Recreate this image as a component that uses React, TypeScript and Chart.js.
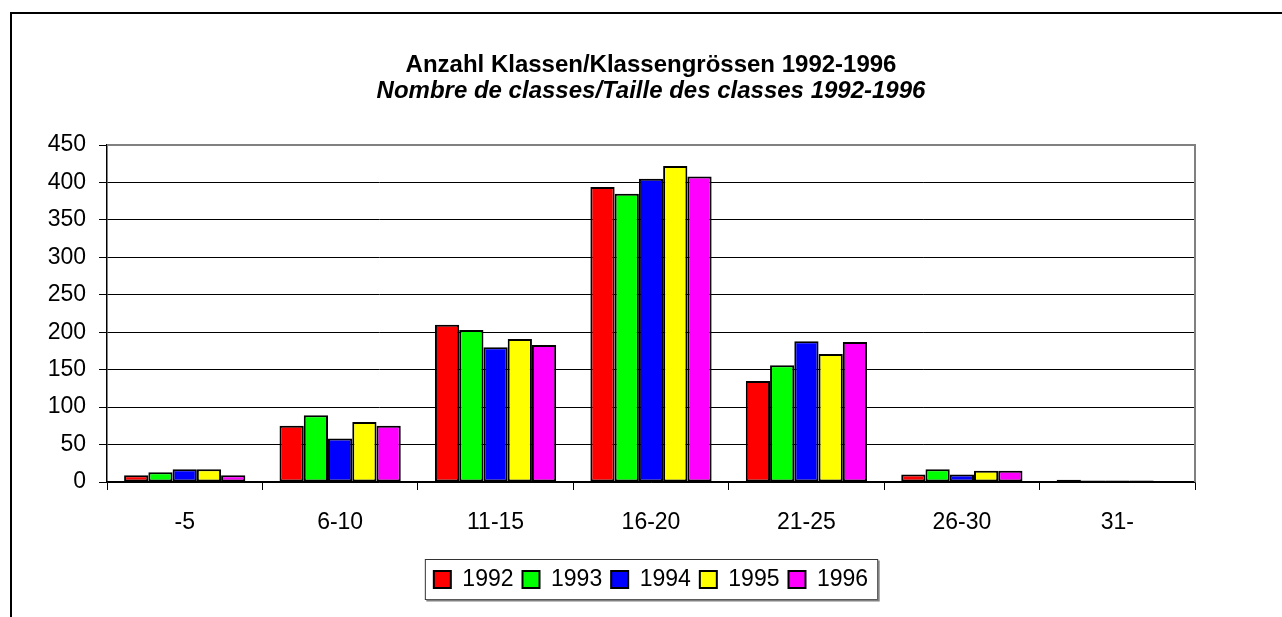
import React, { useEffect, useRef } from "react";
import { Chart, registerables } from "chart.js";

Chart.register(...registerables);

const categories = ["-5", "6-10", "11-15", "16-20", "21-25", "26-30", "31-"];
const seriesNames = ["1992", "1993", "1994", "1995", "1996"];
const seriesColors = ["#FF0000", "#00FF00", "#0000FF", "#FFFF00", "#FF00FF"];
const values1992 = [9, 75, 210, 394, 135, 10, 3];
const values1993 = [13, 89, 203, 385, 156, 17, 2];
const values1994 = [17, 58, 180, 405, 188, 10, 2];
const values1995 = [17, 80, 191, 422, 171, 15, 2];
const values1996 = [9, 75, 183, 408, 187, 15, 1];
const yTickMin = 0;
const yTickMax = 450;
const yTickStep = 50;
const titleText = "Anzahl Klassen/Klassengrössen 1992-1996";
const subtitleText = "Nombre de classes/Taille des classes 1992-1996";

const seriesValues = [values1992, values1993, values1994, values1995, values1996];

const FONT = "'Liberation Sans', Arial, Helvetica, sans-serif";

const framePlugin = {
  id: "framePlugin",
  afterDraw(chart: any) {
    const ctx = chart.ctx;
    const a = chart.chartArea;
    ctx.save();
    ctx.strokeStyle = "#808080";
    ctx.lineWidth = 2;
    ctx.beginPath();
    ctx.moveTo(a.left, a.top);
    ctx.lineTo(a.right, a.top);
    ctx.lineTo(a.right, a.bottom);
    ctx.stroke();
    const lg = chart.legend;
    if (lg && lg.legendHitBoxes && lg.legendHitBoxes.length) {
      const hb = lg.legendHitBoxes;
      const l = Math.min(...hb.map((h: any) => h.left)) - 8.5;
      const r = Math.max(...hb.map((h: any) => h.left + h.width)) + 9.5;
      const t = Math.min(...hb.map((h: any) => h.top)) - 8.5;
      const b = Math.max(...hb.map((h: any) => h.top + h.height)) + 8.5;
      ctx.strokeStyle = "#333";
      ctx.lineWidth = 1;
      ctx.strokeRect(l, t, r - l, b - t);
      ctx.strokeStyle = "#808080";
      ctx.lineWidth = 2;
      ctx.beginPath();
      ctx.moveTo(l + 1, b + 1);
      ctx.lineTo(r + 1, b + 1);
      ctx.lineTo(r + 1, t + 1);
      ctx.stroke();
    }
    ctx.restore();
  },
};

export default function App() {
  const ref = useRef<HTMLCanvasElement>(null);

  useEffect(() => {
    if (!ref.current) return;
    const chart = new Chart(ref.current, {
      type: "bar",
      data: {
        labels: categories,
        datasets: seriesNames.map((name, i) => ({
          label: name,
          data: seriesValues[i],
          backgroundColor: seriesColors[i],
          borderColor: "#000000",
          borderWidth: 2,
          borderSkipped: false,
          categoryPercentage: 0.78,
          barPercentage: 1.0,
        })),
      },
      options: {
        responsive: false,
        animation: false,
        layout: { padding: { top: 0, left: 0, right: 87, bottom: 16 } },
        plugins: {
          title: {
            display: true,
            text: titleText,
            color: "#000",
            fullSize: false,
            font: { family: FONT, size: 24, weight: "bold", lineHeight: 1 },
            padding: { top: 53, bottom: 0 },
          },
          subtitle: {
            display: true,
            text: subtitleText,
            color: "#000",
            fullSize: false,
            font: { family: FONT, size: 24, weight: "bold", style: "italic", lineHeight: 1 },
            padding: { top: 2, bottom: 42 },
          },
          legend: {
            display: true,
            position: "bottom",
            fullSize: false,
            labels: {
              color: "#000",
              boxWidth: 17,
              boxHeight: 17,
              padding: 9,
              font: { family: FONT, size: 23 },
            },
          },
          tooltip: { enabled: false },
        },
        scales: {
          x: {
            afterFit: (s: any) => {
              s.height = 77;
            },
            grid: {
              display: true,
              drawOnChartArea: false,
              drawTicks: true,
              tickLength: 8,
              color: "#000",
              offset: true,
            },
            border: { display: true, color: "#000", width: 1.5 },
            ticks: {
              color: "#000",
              padding: 19,
              maxRotation: 0,
              font: { family: FONT, size: 23 },
            },
          },
          y: {
            min: yTickMin,
            max: yTickMax,
            afterFit: (s: any) => {
              s.width = 107;
            },
            grid: {
              display: true,
              drawOnChartArea: true,
              drawTicks: true,
              tickLength: 8,
              color: "#000",
              lineWidth: 1,
            },
            border: { display: true, color: "#000", width: 1.5 },
            ticks: {
              stepSize: yTickStep,
              color: "#000",
              padding: 13,
              font: { family: FONT, size: 23 },
            },
          },
        },
      },
      plugins: [framePlugin],
    } as any);
    return () => chart.destroy();
  }, []);

  return (
    <div
      style={{
        position: "fixed",
        left: 0,
        top: 0,
        width: 1282,
        height: 617,
        overflow: "hidden",
        background: "#fff",
      }}
    >
      <div
        style={{
          position: "absolute",
          left: 10,
          top: 12,
          width: 1400,
          height: 800,
          border: "2px solid #000",
          boxSizing: "border-box",
        }}
      />
      <canvas
        ref={ref}
        width={1282}
        height={617}
        style={{ position: "absolute", left: 0, top: 0, width: 1282, height: 617 }}
      />
    </div>
  );
}
